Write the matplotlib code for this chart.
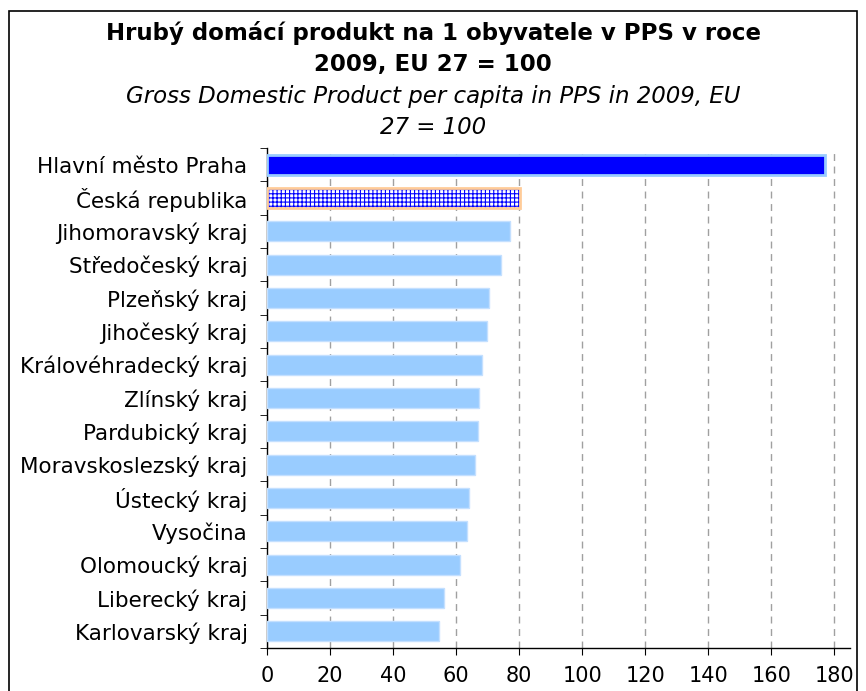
import matplotlib
matplotlib.use("Agg")
import matplotlib.pyplot as plt
from matplotlib.patches import Rectangle

plt.rcParams['font.family'] = ['DejaVu Sans']
plt.rcParams['hatch.linewidth'] = 0.8

# data (top to bottom)
regions = ['Hlavní město Praha', 'Česká republika', 'Jihomoravský kraj',
           'Středočeský kraj', 'Plzeňský kraj', 'Jihočeský kraj',
           'Královéhradecký kraj', 'Zlínský kraj', 'Pardubický kraj',
           'Moravskoslezský kraj', 'Ústecký kraj', 'Vysočina',
           'Olomoucký kraj', 'Liberecký kraj', 'Karlovarský kraj']
gdp_pps = [177.0, 80.3, 77.2, 74.3, 70.3, 69.8, 68.2, 67.2, 67.1,
           66.0, 64.2, 63.5, 61.2, 56.3, 54.7]
x_ticks = [0, 20, 40, 60, 80, 100, 120, 140, 160, 180]

W, H = 866, 691
fig = plt.figure(figsize=(W / 100, H / 100), dpi=100)

# outer frame
fig.patches.append(Rectangle((9 / W, -0.05), 848 / W, 1.05 - 11 / H,
                             transform=fig.transFigure, fill=False,
                             edgecolor='black', linewidth=1.2))

left, right, top, bottom = 267, 850, 148, 648
ax = fig.add_axes([left / W, 1 - bottom / H, (right - left) / W, (bottom - top) / H])

n = len(regions)
ypos = list(range(n))
bar_h = 0.6

for i, (name, val) in enumerate(zip(regions, gdp_pps)):
    if i == 0:
        ax.barh(i, val, height=bar_h, color='#0000ff', edgecolor='#99ccff',
                linewidth=2, zorder=3)
    elif i == 1:
        ax.barh(i, val, height=bar_h, color='white', edgecolor='#0000ff',
                hatch='++++', linewidth=0, zorder=3)
        ax.barh(i, val, height=bar_h, fill=False, edgecolor='#ffcc99',
                linewidth=2, zorder=4)
    else:
        ax.barh(i, val, height=bar_h, color='#99ccff', edgecolor='#c4e0ff',
                linewidth=1, zorder=3)

ax.set_xlim(0, 185)
ax.set_ylim(n - 0.5, -0.5)
ax.set_xticks(x_ticks)
ax.set_xticklabels([str(t) for t in x_ticks], fontsize=15)
ax.set_yticks(ypos)
ax.set_yticklabels(regions, fontsize=15.5)
ax.tick_params(axis='y', length=0, pad=14)
ax.tick_params(axis='x', length=5, direction='out', pad=8)
ax.set_yticks([i + 0.5 for i in range(-1, n)], minor=True)
ax.tick_params(axis='y', which='minor', length=5, direction='out')

ax.grid(axis='x', color='#a0a0a0', linestyle=(0, (5, 4)), linewidth=1, zorder=0)
ax.set_axisbelow(True)
for s in ['top', 'right']:
    ax.spines[s].set_visible(False)
ax.spines['left'].set_linewidth(1)
ax.spines['bottom'].set_linewidth(1)

fig.text(0.5, 1 - 33 / H, 'Hrubý domácí produkt na 1 obyvatele v PPS v roce',
         ha='center', va='center', fontsize=16.5, fontweight='bold')
fig.text(0.5, 1 - 64 / H, '2009, EU 27 = 100',
         ha='center', va='center', fontsize=16.5, fontweight='bold')
fig.text(0.5, 1 - 96 / H, 'Gross Domestic Product per capita in PPS in 2009, EU',
         ha='center', va='center', fontsize=16.5, style='italic')
fig.text(0.5, 1 - 127 / H, '27 = 100',
         ha='center', va='center', fontsize=16.5, style='italic')

fig.savefig('out.png', dpi=100)
